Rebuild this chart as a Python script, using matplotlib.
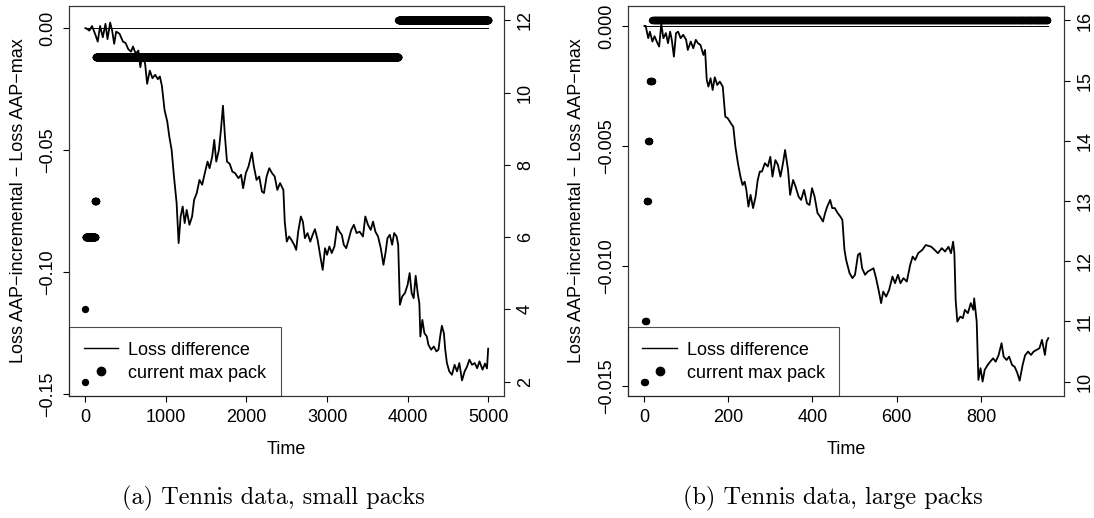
import matplotlib
matplotlib.use("Agg")
import matplotlib.pyplot as plt
import numpy as np
from matplotlib.lines import Line2D

plt.rcParams['font.family'] = ['Liberation Sans', 'DejaVu Sans']

# ---- panel (a): tennis data, small packs ----
small_time = [1, 8, 50, 83, 125, 154, 183, 217, 250, 275, 308, 333, 358, 383, 425, 467,
              500, 533, 567, 592, 625, 658, 683, 708, 742, 767, 800, 833, 867, 900, 925,
              950, 983, 1017, 1042, 1071, 1100, 1133, 1158, 1183, 1208, 1233, 1258, 1292,
              1325, 1350, 1383, 1417, 1450, 1483, 1517, 1542, 1575, 1600, 1625, 1658, 1683,
              1708, 1733, 1758, 1792, 1825, 1858, 1900, 1933, 1958, 1992, 2025, 2067, 2092,
              2125, 2158, 2192, 2217, 2250, 2283, 2317, 2350, 2383, 2417, 2458, 2475, 2500,
              2529, 2558, 2592, 2617, 2642, 2675, 2700, 2725, 2758, 2792, 2821, 2850, 2883,
              2917, 2946, 2975, 3000, 3029, 3058, 3092, 3125, 3154, 3183, 3208, 3238, 3267,
              3300, 3333, 3367, 3404, 3446, 3475, 3508, 3542, 3571, 3600, 3633, 3667, 3700,
              3725, 3750, 3779, 3808, 3833, 3863, 3883, 3904, 3933, 3967, 4000, 4025, 4050,
              4075, 4100, 4125, 4146, 4158, 4183, 4208, 4238, 4258, 4292, 4325, 4358, 4383,
              4404, 4425, 4450, 4467, 4488, 4517, 4550, 4583, 4613, 4642, 4675, 4708, 4738,
              4767, 4800, 4833, 4863, 4892, 4930, 4960, 4985, 5000]
small_diff = [0.0, 0.0, -0.0010, 0.0009, -0.0027, -0.0055, 0.0009, -0.0037, 0.0018, -0.0045,
              0.0023, -0.0010, -0.0064, -0.0014, -0.0023, -0.0055, -0.0061, -0.0086, -0.0096,
              -0.0075, -0.0105, -0.0092, -0.0160, -0.0109, -0.0146, -0.0228, -0.0174, -0.0205,
              -0.0191, -0.0209, -0.0198, -0.0236, -0.0335, -0.0383, -0.0444, -0.0499, -0.0608,
              -0.0717, -0.0881, -0.0772, -0.0731, -0.0799, -0.0745, -0.0806, -0.0772, -0.0704,
              -0.0676, -0.0622, -0.0642, -0.0594, -0.0547, -0.0574, -0.0526, -0.0458, -0.0547,
              -0.0499, -0.0417, -0.0318, -0.0444, -0.0547, -0.0556, -0.0588, -0.0594, -0.0615,
              -0.0601, -0.0656, -0.0594, -0.0567, -0.0510, -0.0567, -0.0622, -0.0608, -0.0670,
              -0.0676, -0.0608, -0.0574, -0.0594, -0.0608, -0.0663, -0.0635, -0.0663, -0.0793,
              -0.0875, -0.0854, -0.0868, -0.0888, -0.0909, -0.0834, -0.0772, -0.0793, -0.0861,
              -0.0840, -0.0875, -0.0847, -0.0824, -0.0868, -0.0936, -0.0991, -0.0902, -0.0929,
              -0.0895, -0.0922, -0.0895, -0.0813, -0.0834, -0.0847, -0.0888, -0.0902, -0.0868,
              -0.0827, -0.0806, -0.0840, -0.0834, -0.0854, -0.0772, -0.0806, -0.0827, -0.0793,
              -0.0834, -0.0854, -0.0902, -0.0970, -0.0922, -0.0861, -0.0847, -0.0888, -0.0840,
              -0.0854, -0.0888, -0.1134, -0.1100, -0.1086, -0.1052, -0.1004, -0.1086, -0.1107,
              -0.1015, -0.1086, -0.1129, -0.1264, -0.1196, -0.1250, -0.1264, -0.1298, -0.1318,
              -0.1305, -0.1325, -0.1318, -0.1264, -0.1220, -0.1250, -0.1318, -0.1373, -0.1407,
              -0.1421, -0.1380, -0.1407, -0.1373, -0.1444, -0.1407, -0.1387, -0.1359, -0.1380,
              -0.1373, -0.1394, -0.1366, -0.1400, -0.1375, -0.1395, -0.1314]
# current max pack, as runs: first time, last time, pack size
small_pack_start = [1, 2, 3, 121, 131, 3886]
small_pack_end = [1, 2, 120, 130, 3885, 5000]
small_pack_value = [2, 4, 6, 7, 11, 12]

# ---- panel (b): tennis data, large packs ----
large_time = [1, 4, 10, 14, 20, 25, 32, 36, 41, 46, 52, 57, 62, 66, 71, 76, 81, 87, 93, 100,
              104, 111, 117, 123, 128, 134, 141, 145, 149, 153, 158, 163, 168, 174, 180, 187,
              193, 199, 206, 212, 217, 223, 229, 234, 239, 243, 248, 253, 259, 265, 270, 275,
              280, 287, 294, 300, 305, 312, 318, 324, 330, 335, 342, 347, 354, 360, 367, 373,
              380, 387, 393, 399, 405, 412, 418, 425, 430, 435, 442, 447, 453, 460, 466, 471,
              476, 480, 482, 488, 495, 501, 508, 513, 518, 525, 531, 538, 545, 551, 557, 563,
              568, 575, 582, 590, 596, 603, 609, 616, 624, 632, 638, 644, 651, 661, 669, 682,
              690, 698, 707, 715, 723, 729, 734, 737, 740, 744, 751, 757, 762, 769, 776, 782,
              784, 790, 794, 799, 804, 809, 816, 822, 829, 835, 842, 849, 854, 861, 867, 874,
              880, 886, 892, 899, 905, 912, 919, 925, 932, 939, 945, 952, 956, 960]
large_diff = [0.0, 0.0, -0.00051, -0.00024, -0.00065, -0.00043, -0.00072, -0.00086, 0.00008,
              -0.00051, -0.00030, -0.00072, -0.00024, -0.00058, -0.00128, -0.00030, -0.00024,
              -0.00051, -0.00037, -0.00058, -0.00100, -0.00065, -0.00093, -0.00058, -0.00072,
              -0.00079, -0.00121, -0.00100, -0.00225, -0.00253, -0.00218, -0.00267, -0.00214,
              -0.00246, -0.00232, -0.00253, -0.00378, -0.00385, -0.00405, -0.00420, -0.00503,
              -0.00572, -0.00628, -0.00663, -0.00649, -0.00683, -0.00753, -0.00704, -0.00759,
              -0.00711, -0.00642, -0.00607, -0.00607, -0.00572, -0.00586, -0.00545, -0.00628,
              -0.00559, -0.00579, -0.00628, -0.00572, -0.00517, -0.00600, -0.00704, -0.00642,
              -0.00670, -0.00711, -0.00725, -0.00683, -0.00739, -0.00746, -0.00676, -0.00711,
              -0.00780, -0.00794, -0.00815, -0.00780, -0.00753, -0.00725, -0.00759, -0.00759,
              -0.00780, -0.00794, -0.00808, -0.00933, -0.00975, -0.00989, -0.01030, -0.01051,
              -0.01037, -0.00954, -0.00947, -0.01010, -0.01037, -0.01024, -0.01017, -0.01010,
              -0.01051, -0.01100, -0.01155, -0.01107, -0.01128, -0.01100, -0.01044, -0.01072,
              -0.01037, -0.01072, -0.01051, -0.01065, -0.00996, -0.00961, -0.00975, -0.00947,
              -0.00933, -0.00913, -0.00920, -0.00933, -0.00947, -0.00926, -0.00940, -0.00920,
              -0.00947, -0.00899, -0.00947, -0.01142, -0.01232, -0.01211, -0.01218, -0.01183,
              -0.01197, -0.01155, -0.01183, -0.01135, -0.01232, -0.01475, -0.01426, -0.01482,
              -0.01433, -0.01413, -0.01399, -0.01385, -0.01399, -0.01372, -0.01322, -0.01378,
              -0.01392, -0.01378, -0.01413, -0.01420, -0.01444, -0.01478, -0.01413, -0.01372,
              -0.01357, -0.01371, -0.01357, -0.01350, -0.01343, -0.01308, -0.01371, -0.01315,
              -0.01301]
large_pack_start = [1, 3, 6, 10, 14, 20]
large_pack_end = [2, 5, 9, 13, 19, 958]
large_pack_value = [10, 11, 13, 14, 15, 16]

small_xticks = [0, 1000, 2000, 3000, 4000, 5000]
small_yticks = [0.0, -0.05, -0.10, -0.15]
small_pack_ticks = [2, 4, 6, 8, 10, 12]
large_xticks = [0, 200, 400, 600, 800]
large_yticks = [0.0, -0.005, -0.010, -0.015]
large_pack_ticks = [10, 11, 12, 13, 14, 15, 16]

W, H = 1094, 518
fig = plt.figure(figsize=(W / 100, H / 100), dpi=100)

FS = 13


def panel(box, time, diff, p_start, p_end, p_val, xlim, ylim, plim,
          xticks, yticks, yfmt, pticks, caption, cap_x):
    left, right, top, bottom = box
    ax = fig.add_axes([left / W, 1 - bottom / H, (right - left) / W, (bottom - top) / H])
    t = np.asarray(time)
    ax.plot(t, diff, color='black', lw=1.3, zorder=3)
    ax.plot([t[0], t[-1]], [0, 0], color='black', lw=0.7, zorder=2)
    ax.set_xlim(*xlim)
    ax.set_ylim(*ylim)
    ax.set_xticks(xticks)
    ax.set_yticks(yticks)
    ax.set_yticklabels([(yfmt % v).replace('-', '\u2212') if v != 0 else yfmt % 0
                        for v in yticks])
    ax.set_xlabel('Time', fontsize=FS, labelpad=11)
    ax.set_ylabel('Loss AAP\u2212incremental \u2212 Loss AAP\u2212max', fontsize=FS,
                  labelpad=9)
    ax.tick_params(axis='both', direction='out', length=4.5, width=0.8,
                   labelsize=FS, pad=5)
    ax.tick_params(axis='y', labelrotation=90)
    for lab in ax.get_yticklabels():
        lab.set_va('center')

    ax2 = ax.twinx()
    pt = np.concatenate([np.arange(s, e + 1) for s, e in zip(p_start, p_end)])
    pv = np.concatenate([np.full(e - s + 1, v) for s, e, v in zip(p_start, p_end, p_val)])
    ax2.scatter(pt, pv, s=28, color='black', linewidths=0, zorder=4)
    ax2.set_ylim(*plim)
    ax2.set_yticks(pticks)
    ax2.tick_params(axis='y', direction='out', length=4.5, width=0.8,
                    labelsize=FS, pad=4.5, labelrotation=90)
    for lab in ax2.get_yticklabels():
        lab.set_va('center')
    ax2.set_xlim(*xlim)

    for a in (ax, ax2):
        for sp in a.spines.values():
            sp.set_linewidth(0.8)
            sp.set_color('#333333')

    handles = [Line2D([], [], color='black', lw=1.0),
               Line2D([], [], color='black', marker='o', ls='none', markersize=6)]
    leg = ax2.legend(handles, ['Loss difference', 'current max pack'],
                     loc='lower left', bbox_to_anchor=(0, 0), borderaxespad=0,
                     fontsize=FS, frameon=True, fancybox=False, borderpad=0.8,
                     labelspacing=0.32, handlelength=1.9, handletextpad=0.55)
    leg.get_frame().set_facecolor('none')
    leg.get_frame().set_edgecolor('#222222')
    leg.get_frame().set_linewidth(0.8)

    fig.text(cap_x / W, 1 - 498 / H, caption, fontfamily='cmr10', fontsize=17.5,
             ha='center', va='center')
    return ax, ax2


panel((69.3, 504.3, 6, 396), small_time, small_diff,
      small_pack_start, small_pack_end, small_pack_value,
      (-199, 5200), (-0.1508, 0.0091), (1.6, 12.4),
      small_xticks, small_yticks, '%.2f', small_pack_ticks,
      '(a) Tennis data, small packs', 273.5)

panel((628, 1064.3, 6, 396), large_time, large_diff,
      large_pack_start, large_pack_end, large_pack_value,
      (-38, 998), (-0.01542, 0.00083), (9.76, 16.24),
      large_xticks, large_yticks, '%.3f', large_pack_ticks,
      '(b) Tennis data, large packs', 832.6)

fig.savefig('out.png', dpi=100)
